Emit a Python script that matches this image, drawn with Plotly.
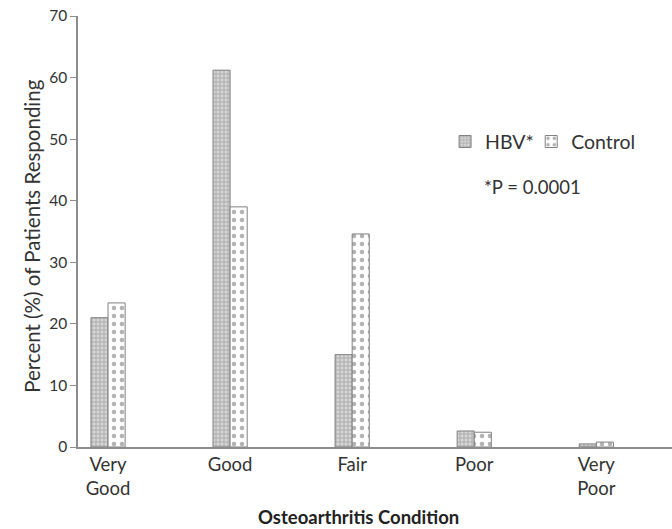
import plotly.graph_objects as go

categories = ["Very<br>Good", "Good", "Fair", "Poor", "Very<br>Poor"]
hbv = [21.0, 61.2, 15.0, 2.6, 0.5]
control = [23.4, 39.0, 34.6, 2.4, 0.8]
yticks = [0, 10, 20, 30, 40, 50, 60, 70]

xpos = list(range(len(categories)))
bw = 0.14
FONT = "Lato, 'Open Sans', sans-serif"

fig = go.Figure()
fig.add_trace(go.Bar(
    x=xpos, y=hbv, name="HBV*", width=bw, offset=-bw, legend="legend",
    marker=dict(color="#cfcfcf", line=dict(color="#808080", width=1),
                pattern=dict(shape="+", fgcolor="#7a7a7a", bgcolor="#d6d6d6",
                             size=4, solidity=0.4)),
))
fig.add_trace(go.Bar(
    x=xpos, y=control, name="Control", width=bw, offset=0, legend="legend2",
    marker=dict(color="white", line=dict(color="#808080", width=1),
                pattern=dict(shape=".", fgcolor="#666666", bgcolor="white",
                             size=8, solidity=0.25)),
))

fig.add_annotation(text="*P = 0.0001", xref="paper", yref="paper",
                   x=0.68, y=0.604, xanchor="left", yanchor="middle",
                   showarrow=False, font=dict(size=18.5, color="#333333", family=FONT))
fig.add_annotation(text="<b>Osteoarthritis Condition</b>", xref="paper", yref="paper",
                   x=0.473, y=-0.162, xanchor="center", yanchor="middle",
                   showarrow=False, font=dict(size=18.5, color="#222222", family=FONT))
fig.add_annotation(text="Percent (%) of Patients Responding", xref="paper", yref="paper",
                   x=-0.0774, y=0.49, xanchor="center", yanchor="middle", textangle=-90,
                   showarrow=False, font=dict(size=20.5, color="#333333", family=FONT))

leg_common = dict(orientation="h", y=0.708, xanchor="left", yanchor="middle",
                  font=dict(size=19.5, color="#333333"), bgcolor="rgba(0,0,0,0)",
                  itemwidth=30)

fig.update_layout(
    width=672, height=529,
    margin=dict(l=78, r=0, t=16, b=82),
    paper_bgcolor="white", plot_bgcolor="white",
    font=dict(family=FONT, color="#333333", size=15),
    showlegend=True,
    legend=dict(x=0.618, **leg_common),
    legend2=dict(x=0.763, **leg_common),
    xaxis=dict(range=[-0.246, 4.62], tickvals=xpos, ticktext=categories,
               showline=True, linecolor="#8c8c8c", linewidth=1.5, ticks="",
               showgrid=False, zeroline=False, automargin=False,
               tickfont=dict(size=18.5, color="#333333")),
    yaxis=dict(range=[0, 70], tickvals=yticks, showline=True, linecolor="#8c8c8c",
               linewidth=1.5, ticks="outside", ticklen=6, tickcolor="#8c8c8c",
               showgrid=False, zeroline=False, automargin=False,
               ticklabeloverflow="allow",
               tickfont=dict(size=15.5, color="#333333")),
)

fig.write_html("out.html", config={"displayModeBar": False},
               post_script="document.body.style.margin='0';document.body.style.overflow='hidden';")
